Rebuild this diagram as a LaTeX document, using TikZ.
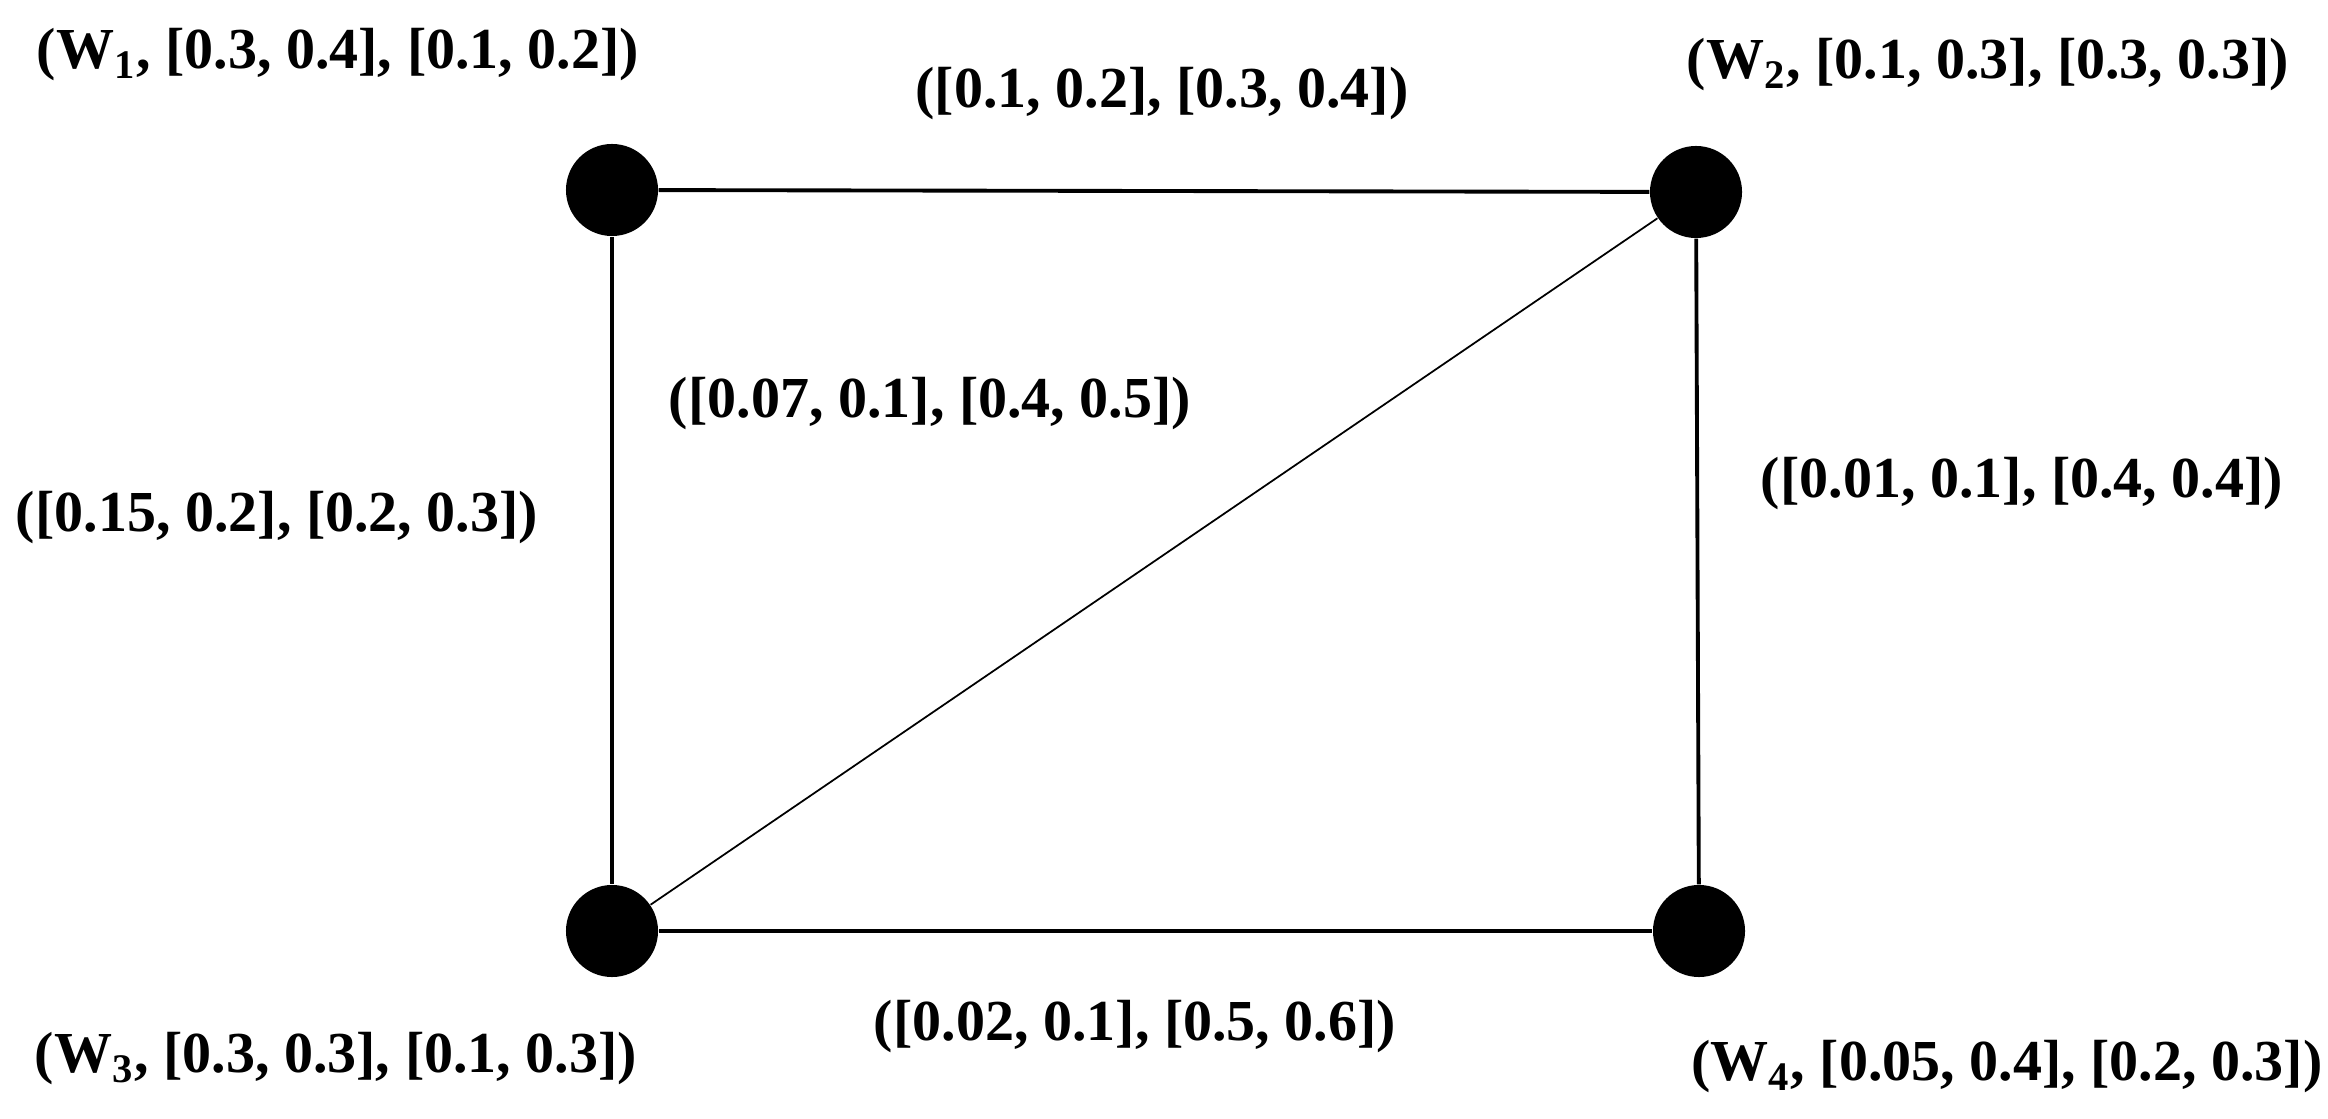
\documentclass[tikz,border=0pt]{standalone}
\usepackage{fontspec}
\setmainfont{Liberation Serif}
\usepackage{tikz}

\begin{document}
\begin{tikzpicture}[x=0.01cm,y=-0.01cm,
  vtx/.style={circle,fill=black,inner sep=0pt,minimum size=0.92cm},
  lbl/.style={font=\fontsize{16.5}{19}\selectfont\bfseries,inner sep=0pt},
  edge/.style={line width=1.1pt},
  thinedge/.style={line width=0.5pt}]
\useasboundingbox (0,0) rectangle (2328,1119);
%Vertices
\node[vtx] (w1) at (612,190) {};
\node[vtx] (w2) at (1696,192) {};
\node[vtx] (w3) at (612,931) {};
\node[vtx] (w4) at (1699,931) {};
%Edges
\draw[edge] (w1) -- (w2);
\draw[edge] (w1) -- (w3);
\draw[edge] (w2) -- (w4);
\draw[edge] (w3) -- (w4);
\draw[thinedge] (w3) -- (w2);
%Text
\node[lbl] (t1) at (338,55) {(W\textsubscript{1}, [0.3, 0.4], [0.1, 0.2])};
\node[lbl] (t2) at (1988,65) {(W\textsubscript{2}, [0.1, 0.3], [0.3, 0.3])};
\node[lbl] (t3) at (336,1059) {(W\textsubscript{3}, [0.3, 0.3], [0.1, 0.3])};
\node[lbl] (t4) at (2007,1067) {(W\textsubscript{4}, [0.05, 0.4], [0.2, 0.3])};
\node[lbl] (e12) at (1162,94) {([0.1, 0.2], [0.3, 0.4])};
\node[lbl] (e23) at (930,404) {([0.07, 0.1], [0.4, 0.5])};
\node[lbl] (e13) at (277,518) {([0.15, 0.2], [0.2, 0.3])};
\node[lbl] (e24) at (2022,484) {([0.01, 0.1], [0.4, 0.4])};
\node[lbl] (e34) at (1135,1027) {([0.02, 0.1], [0.5, 0.6])};
\end{tikzpicture}
\end{document}
